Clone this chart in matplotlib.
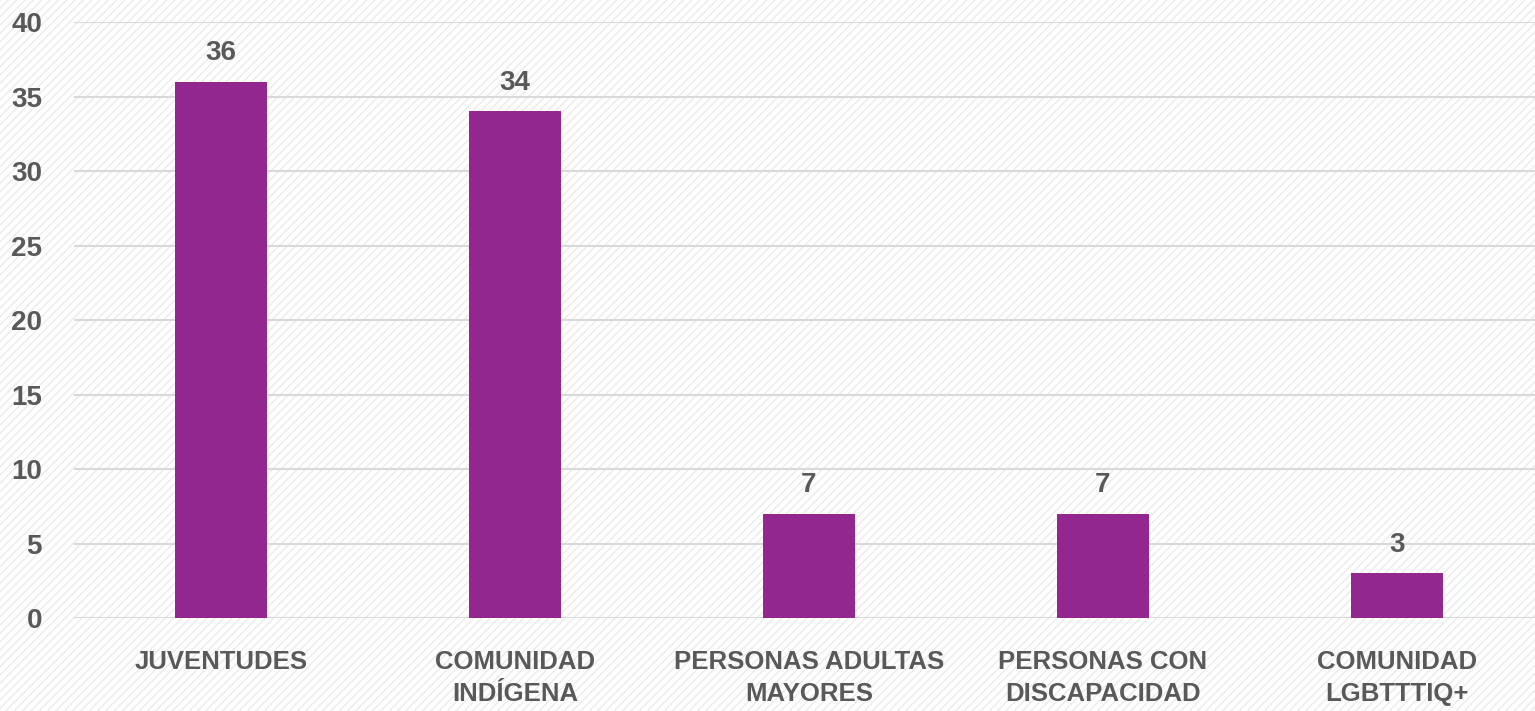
import numpy as np
import matplotlib.pyplot as plt
from matplotlib.patches import Rectangle

categorias = ['JUVENTUDES', 'COMUNIDAD\nINDÍGENA', 'PERSONAS ADULTAS\nMAYORES',
              'PERSONAS CON\nDISCAPACIDAD', 'COMUNIDAD\nLGBTTTIQ+']
valores = [36, 34, 7, 7, 3]
yticks = [0, 5, 10, 15, 20, 25, 30, 35, 40]

gris = '#595959'
morado = '#92278F'
plt.rcParams['font.family'] = ['Liberation Sans', 'DejaVu Sans']

fig = plt.figure(figsize=(15.35, 7.11), dpi=100)
fig.patch.set_facecolor('white')
# fondo rayado
fondo = Rectangle((0, 0), 1, 1, transform=fig.transFigure, facecolor='white',
                  edgecolor='#ebebeb', hatch='////', linewidth=0, zorder=-10)
fig.patches.append(fondo)

ax = fig.add_axes([74 / 1535, 0.1308, 1470 / 1535, 0.8382])
ax.patch.set_alpha(0)

x = np.arange(len(categorias))
ax.bar(x, valores, width=0.313, color=morado, zorder=3)
for xi, v in zip(x, valores):
    ax.annotate(str(v), (xi, v), xytext=(0, 11), textcoords='offset points',
                ha='center', va='bottom', fontsize=20, fontweight='bold', color=gris)

ax.set_xlim(-0.5, len(categorias) - 0.5)
ax.set_ylim(0, 40)
ax.set_yticks(yticks)
ax.yaxis.grid(True, color='#d9d9d9', linewidth=1.5, zorder=0)
ax.set_axisbelow(True)
ax.set_xticks(x)
ax.set_xticklabels(categorias, fontsize=18.5, fontweight='bold', color=gris, linespacing=1.4)
for lbl in ax.get_yticklabels():
    lbl.set_fontsize(20)
    lbl.set_fontweight('bold')
    lbl.set_color(gris)
ax.tick_params(axis='both', length=0)
ax.tick_params(axis='x', pad=23)
ax.tick_params(axis='y', pad=23)
for s in ax.spines.values():
    s.set_visible(False)

fig.savefig('out.png', dpi=100)
